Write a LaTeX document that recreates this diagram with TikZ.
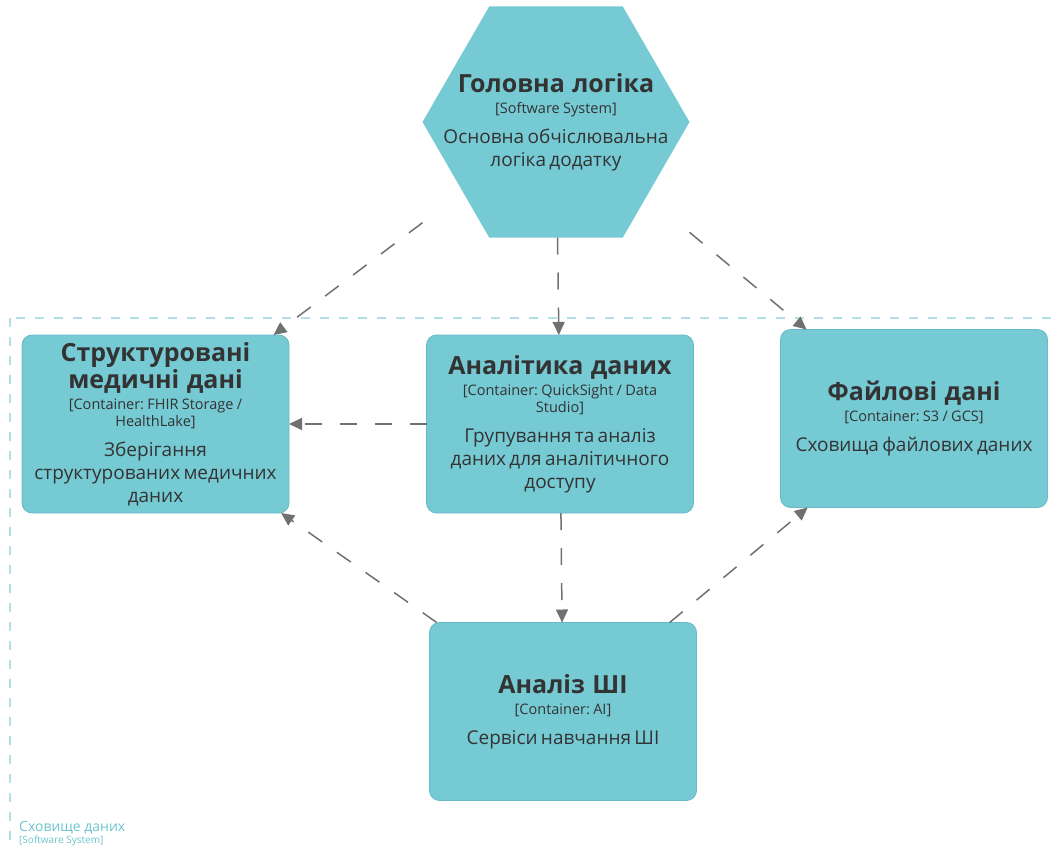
\documentclass[tikz,border=0pt]{standalone}
\usepackage{fontspec}
\setmainfont{Open Sans}
\usetikzlibrary{
    arrows.meta,
    positioning,
    shapes.geometric
}
\definecolor{boxfill}{HTML}{76CAD4}
\definecolor{boxedge}{HTML}{67BBC6}
\definecolor{boxtext}{HTML}{333333}
\definecolor{reltext}{HTML}{707070}
\definecolor{boundline}{HTML}{B4DFE4}
\definecolor{boundtext}{HTML}{6CC4CD}
\frenchspacing
% title, technology and description of one element
\newcommand{\elem}[3]{%
    {\fontsize{25}{27}\selectfont\bfseries\spaceskip=0.3em #1\par}\vspace{4.5pt}%
    {\fontsize{14.5}{17}\selectfont #2\par}\vspace{6.5pt}%
    {\fontsize{19}{23}\selectfont #3\par}}
\tikzset{
    every picture/.style = {
        > = {Triangle[length=13pt, width=12pt]},
        x = 1pt,
        y = -1pt
    },
    container/.style = {
        rectangle,
        rounded corners = 10pt,
        fill = boxfill,
        draw = boxedge,
        line width = 0.8pt,
        minimum width = 267pt,
        minimum height = 178pt,
        text width = 255pt,
        inner sep = 0pt,
        outer sep = 0pt,
        align = center,
        text = boxtext
    },
    hexbox/.style = {
        regular polygon,
        regular polygon sides = 6,
        minimum size = 267pt,
        inner sep = 0pt,
        outer sep = 0pt,
        fill = boxfill
    },
    rel/.style = {
        ->,
        draw = reltext,
        line width = 1.5pt,
        dash pattern = on 17pt off 18pt
    },
    boundary/.style = {
        draw = boundline,
        line width = 1.5pt,
        dash pattern = on 9pt off 10pt
    }
}

\begin{document}
\begin{tikzpicture}
    \useasboundingbox (0,0) rectangle (1051,849);

    % boundary of the storage system
    \draw[boundary] (10,318) rectangle (1080,880);
    \node[anchor = north west, inner sep = 0pt, align = left, text = boundtext] (store) at (19,821)
        {{\fontsize{14}{15}\selectfont Сховище даних}\\[0pt]{\fontsize{10}{11}\selectfont [Software System]}};

    \node[hexbox] (logichex) at (556,122) {};
    \node[rectangle, minimum width = 267pt, minimum height = 231pt, text width = 245pt,
          inner sep = 0pt, outer sep = 0pt, align = center, text = boxtext] (logic) at (556,122)
        {\elem{Головна логіка}{[Software System]}{Основна обчіслювальна\\логіка додатку}};

    \node[container] (fhir) at (155.5,424)
        {\elem{Структуровані\\медичні дані}{[Container: FHIR Storage /\\HealthLake]}{Зберігання\\структурованих медичних\\даних}};
    \node[container] (analytics) at (560,424)
        {\elem{Аналітика даних}{[Container: QuickSight / Data\\Studio]}{Групування та аналіз\\даних для аналітичного\\доступу}};
    \node[container] (files) at (914,418.5)
        {\elem{Файлові дані}{[Container: S3 / GCS]}{Сховища файлових даних}};
    \node[container] (ai) at (563,711.5)
        {\elem{Аналіз ШІ}{[Container: AI]}{Сервіси навчання ШІ}};

    \draw[rel] (logic) -- (fhir);
    \draw[rel] (logic) -- (analytics);
    \draw[rel] (logic) -- (files);
    \draw[rel] (analytics) -- (fhir);
    \draw[rel] (analytics) -- (ai);
    \draw[rel] (ai) -- (fhir);
    \draw[rel] (ai) -- (files);
\end{tikzpicture}
\end{document}
